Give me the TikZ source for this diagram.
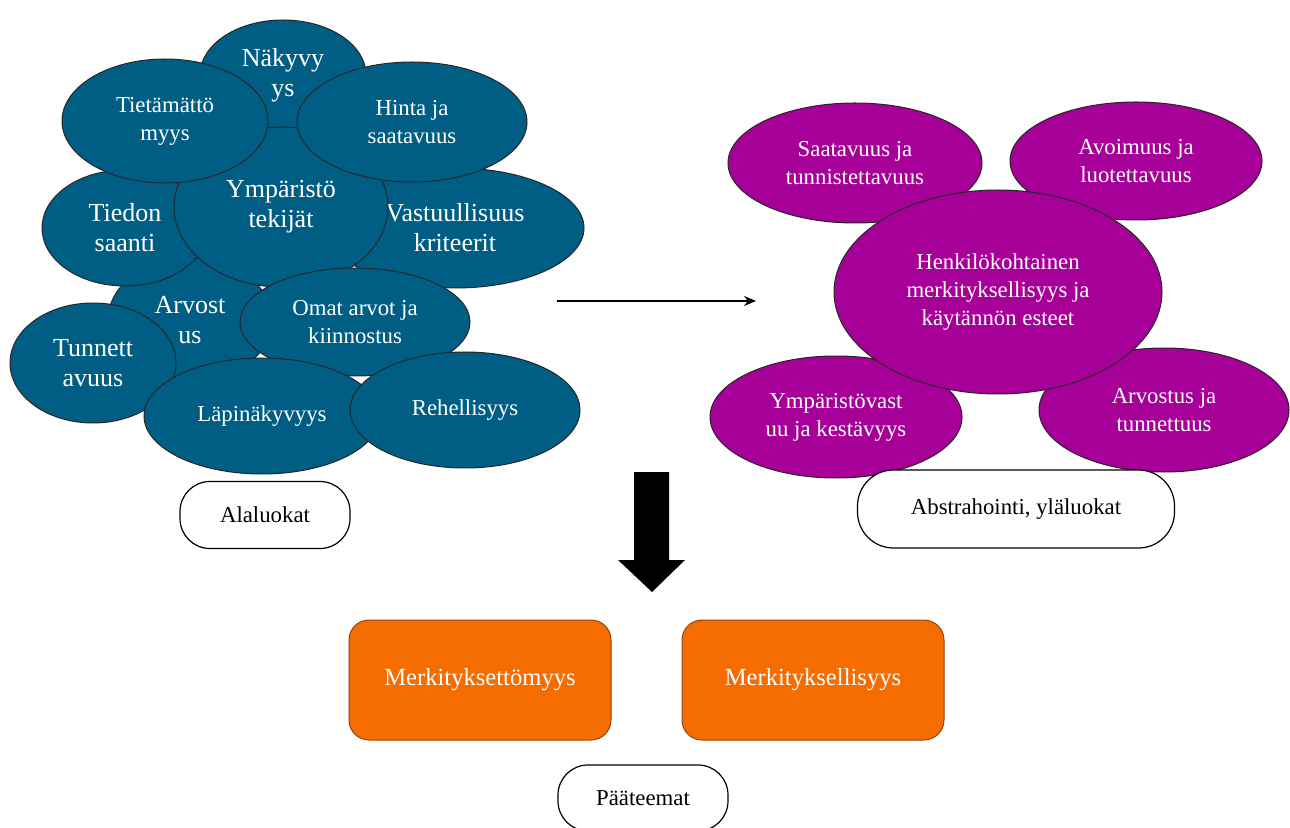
\documentclass[tikz,border=0pt]{standalone}
\usepackage{fontspec}
\setmainfont{Liberation Serif}
\usetikzlibrary{shapes.geometric,arrows.meta}
\definecolor{bluefill}{RGB}{0,94,133}
\definecolor{purplefill}{RGB}{166,0,152}
\definecolor{orangefill}{RGB}{245,108,0}
\definecolor{orangeline}{RGB}{150,70,10}
\tikzset{
  blob/.style={ellipse, draw=black!85, line width=0.5pt, inner sep=0pt, align=center, text=white},
  bblob/.style={blob, fill=bluefill},
  pblob/.style={blob, fill=purplefill},
  bigtxt/.style={font=\fontsize{13}{15}\selectfont},
  smalltxt/.style={font=\fontsize{11.4}{14}\selectfont},
  theme/.style={rounded corners=10pt, draw=orangeline, line width=0.5pt, fill=orangefill, text=white,
    font=\fontsize{12.3}{14}\selectfont, inner sep=0pt, minimum height=60pt},
  tag/.style={draw=black, line width=0.6pt, fill=white, inner sep=0pt, font=\fontsize{11.4}{14}\selectfont}
}
\begin{document}
\begin{tikzpicture}[x=0.5pt,y=-0.5pt]
\useasboundingbox[fill=white] (0,0) rectangle (1290,828);
% blue cluster
\node[bblob, bigtxt, minimum width=83pt, minimum height=55pt] (naky) at (283,75) {Näkyvy\\ys};
\node[bblob, bigtxt, minimum width=82pt, minimum height=62pt] (arvo) at (190,320) {Arvost\\us};
\node[bblob, bigtxt, minimum width=83pt, minimum height=58pt] (tied) at (125,228) {Tiedon\\saanti};
\node[bblob, bigtxt, minimum width=129pt, minimum height=60pt] (vast) at (455,228) {Vastuullisuus\\kriteerit};
\node[bblob, bigtxt, minimum width=107pt, minimum height=80pt] (ympa) at (281,207) {Ympäristö\\tekijät};
\node[bblob, smalltxt, minimum width=103pt, minimum height=62pt] (tiet) at (165,121) {Tietämättö\\myys};
\node[bblob, smalltxt, minimum width=115pt, minimum height=60pt] (hint) at (412,122) {Hinta ja\\saatavuus};
\node[bblob, smalltxt, minimum width=115pt, minimum height=54pt] (omat) at (355,322) {Omat arvot ja\\kiinnostus};
\node[bblob, bigtxt, minimum width=83pt, minimum height=60pt] (tunn) at (93,363) {Tunnett\\avuus};
\node[bblob, smalltxt, minimum width=118pt, minimum height=58pt] (lapi) at (262,416) {Läpinäkyvyys};
\node[bblob, smalltxt, minimum width=115pt, minimum height=58pt] (rehe) at (465,410) {Rehellisyys};
\node[tag, rounded corners=15pt, minimum width=85pt, minimum height=33.5pt] (alal) at (265,515) {Alaluokat};
% thin arrow
\coordinate (a1) at (557,301);
\coordinate (a2) at (756,301);
\draw[line width=0.6pt, -{Stealth[length=6pt,width=5pt]}] (a1) -- (a2);
% purple cluster
\node[pblob, smalltxt, minimum width=127pt, minimum height=60pt] (saat) at (855,163) {Saatavuus ja\\tunnistettavuus};
\node[pblob, smalltxt, minimum width=126pt, minimum height=59pt] (avoi) at (1136,161) {Avoimuus ja\\luotettavuus};
\node[pblob, smalltxt, minimum width=126pt, minimum height=61pt] (ymva) at (836,417) {Ympäristövast\\uu ja kestävyys};
\node[pblob, smalltxt, minimum width=125pt, minimum height=62pt] (arvt) at (1164,410) {Arvostus ja\\tunnettuus};
\node[pblob, smalltxt, minimum width=164pt, minimum height=102pt] (henk) at (998,292) {Henkilökohtainen\\merkityksellisyys ja\\käytännön esteet};
\node[tag, rounded corners=18pt, minimum width=158.5pt, minimum height=39pt] (abst) at (1016,509) {Abstrahointi, yläluokat};
% big arrow
\coordinate (b1) at (634,472);
\coordinate (b2) at (669,472);
\coordinate (b3) at (669,560);
\coordinate (b4) at (685,560);
\coordinate (b5) at (652,592);
\coordinate (b6) at (618,560);
\coordinate (b7) at (634,560);
\fill[black] (b1) -- (b2) -- (b3) -- (b4) -- (b5) -- (b6) -- (b7) -- cycle;
% main themes
\node[theme, minimum width=131pt] (mto) at (480,680) {Merkityksettömyys};
\node[theme, minimum width=131pt] (mli) at (813,680) {Merkityksellisyys};
\node[tag, rounded corners=15pt, minimum width=85pt, minimum height=33pt] (paat) at (643,798) {Pääteemat};
\end{tikzpicture}
\end{document}
